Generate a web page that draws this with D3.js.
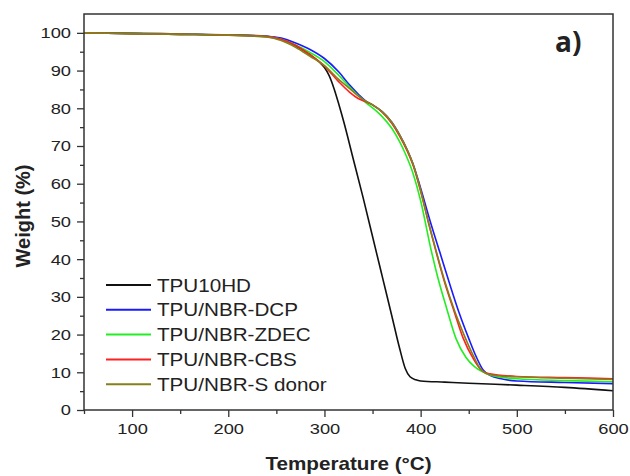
<!DOCTYPE html>
<html lang="en">
<head>
<meta charset="UTF-8">
<title>TGA curves</title>
<script src="https://d3js.org/d3.v7.min.js"></script>
<style>
  body { margin: 0; background: #fff; }
  text { font-family: "Liberation Sans", Arial, sans-serif; fill: #222; }
</style>
</head>
<body>
<div id="chart"></div>
<script>
// Data: [temperature (°C), weight (%)]
const tpu10hd = [[50,100],[100,99.9],[150,99.7],[200,99.5],[240,99.1],[255,98.3],[270,96.6],[285,94.2],[295,92.2],[300,90.8],[305,88.6],[310,85.2],[315,81],[320,76.5],[330,66.5],[340,56.5],[350,46],[360,35.5],[370,25],[378,16.5],[384,11],[389,8.8],[395,8],[400,7.7],[425,7.4],[450,7.1],[500,6.6],[550,6],[600,5.1]];
const nbrDcp = [[50,100],[100,99.8],[150,99.6],[200,99.4],[240,99.1],[255,98.6],[270,97.3],[285,95.6],[300,93.2],[315,89.6],[326,86.2],[335,83.8],[343,81.9],[350,80.9],[360,79.1],[370,76.3],[378,73],[386,69],[392,65.3],[400,58.8],[410,50],[420,41.8],[430,33.6],[440,25.8],[450,19],[458,14],[465,10.6],[472,9.2],[485,8.2],[500,7.7],[550,7.3],[600,7.0]];
const nbrZdec = [[50,100],[100,99.8],[150,99.6],[200,99.4],[240,99.0],[255,98.3],[270,96.8],[285,94.8],[300,92.4],[315,88.7],[326,85.7],[335,83.4],[343,81.5],[350,80.1],[360,77.8],[370,74.7],[378,71.2],[384,68],[392,62.8],[400,55.5],[411,42.3],[418,35],[427,27],[437,18.8],[447,14],[456,11.5],[463,10.3],[470,9.5],[480,8.8],[500,8.3],[550,7.8],[600,7.5]];
const nbrCbs = [[50,100],[100,99.8],[150,99.6],[200,99.4],[240,99.0],[255,98.3],[270,96.7],[285,94.2],[300,91.2],[315,87],[326,84.3],[335,82.6],[343,81.7],[350,80.9],[360,79],[370,76],[378,72.7],[386,68.7],[392,65],[400,58],[408,49.8],[416,42],[425,33.8],[435,26],[444,19.2],[455,13.5],[462,10.9],[468,9.8],[480,9.3],[500,8.9],[550,8.6],[600,8.3]];
const nbrSdonor = [[50,100],[100,99.8],[150,99.6],[200,99.4],[240,98.9],[255,98],[270,96.2],[285,93.8],[300,91.3],[315,87.6],[326,85.3],[335,83.3],[343,81.9],[350,80.9],[360,79.1],[370,76.3],[378,73],[386,69],[392,65.3],[400,58.3],[408,50],[416,42.3],[425,34.2],[435,26.5],[445,20],[455,14.3],[462,11],[468,9.7],[480,9.1],[500,8.8],[550,8.4],[600,8.1]];

const seriesNames = ["TPU10HD", "TPU/NBR-DCP", "TPU/NBR-ZDEC", "TPU/NBR-CBS", "TPU/NBR-S donor"];
const seriesData = [tpu10hd, nbrDcp, nbrZdec, nbrCbs, nbrSdonor];
const seriesColors = ["#111111", "#1a1aff", "#22ee22", "#ff2020", "#85801a"];

const xTicks = [100, 200, 300, 400, 500, 600];
const xMinor = [50, 150, 250, 350, 450, 550];
const yTicks = [0, 10, 20, 30, 40, 50, 60, 70, 80, 90, 100];
const yMinor = [5, 15, 25, 35, 45, 55, 65, 75, 85, 95];

// Layout
const W = 630, H = 476;
const margin = { top: 14, right: 17, bottom: 66, left: 84 };
const width = W - margin.left - margin.right,
      height = H - margin.top - margin.bottom;

const svg = d3.select("#chart").append("svg")
    .attr("width", W).attr("height", H);
const g = svg.append("g")
    .attr("transform", `translate(${margin.left},${margin.top})`);

const x = d3.scaleLinear().domain([50, 600]).range([0, width]);
const y = d3.scaleLinear().domain([0, 105]).range([height, 0]);

// curves
const line = d3.line()
    .x(d => x(d[0]))
    .y(d => y(d[1]))
    .curve(d3.curveMonotoneX);

seriesData.forEach((s, i) => {
    g.append("path")
        .datum(s)
        .attr("fill", "none")
        .attr("stroke", seriesColors[i])
        .attr("stroke-width", 1.6)
        .attr("d", line);
});

// frame
g.append("rect")
    .attr("width", width).attr("height", height)
    .attr("fill", "none").attr("stroke", "#333").attr("stroke-width", 1.5);

// axes
const stretch = 1.18;
const xAxis = g.append("g")
    .attr("transform", `translate(0,${height})`)
    .call(d3.axisBottom(x).tickValues(xTicks).tickSize(7).tickPadding(6));
xAxis.selectAll("text")
    .attr("font-size", 15.5)
    .attr("transform", `scale(${stretch},1)`);
g.append("g")
    .attr("transform", `translate(0,${height})`)
    .call(d3.axisBottom(x).tickValues(xMinor).tickSize(4).tickFormat(""));

const yAxis = g.append("g")
    .call(d3.axisLeft(y).tickValues(yTicks).tickSize(7).tickPadding(4));
yAxis.selectAll("text")
    .attr("font-size", 15.5)
    .attr("transform", `scale(${stretch},1)`);
g.append("g")
    .call(d3.axisLeft(y).tickValues(yMinor).tickSize(4).tickFormat(""));

g.selectAll(".domain").remove();
g.selectAll(".tick line").attr("stroke", "#333").attr("stroke-width", 1.3);
g.selectAll(".tick text").attr("fill", "#222").style("font-family", "'Liberation Sans', Arial, sans-serif");

// axis titles
svg.append("text")
    .attr("transform", `translate(${margin.left + width / 2},470) scale(${stretch},1)`)
    .attr("text-anchor", "middle")
    .attr("font-size", 17.5).attr("font-weight", "bold")
    .text("Temperature (°C)");

svg.append("text")
    .attr("transform", "translate(30,216) rotate(-90)")
    .attr("text-anchor", "middle")
    .attr("font-size", 20).attr("font-weight", "bold")
    .text("Weight (%)");

// panel label
svg.append("text")
    .attr("x", 555).attr("y", 52)
    .attr("font-size", 28).attr("font-weight", "bold")
    .style("font-family", "'Open Sans', sans-serif")
    .text("a)");

// legend
const legend = svg.append("g").attr("transform", "translate(106,285)");
seriesNames.forEach((name, i) => {
    const row = legend.append("g").attr("transform", `translate(0,${i * 24.8})`);
    row.append("line")
        .attr("x1", 0).attr("x2", 45)
        .attr("stroke", seriesColors[i]).attr("stroke-width", 2);
    row.append("text")
        .attr("transform", `translate(51,6.5) scale(${stretch},1)`)
        .attr("font-size", 17.5)
        .text(name);
});
</script>
</body>
</html>
